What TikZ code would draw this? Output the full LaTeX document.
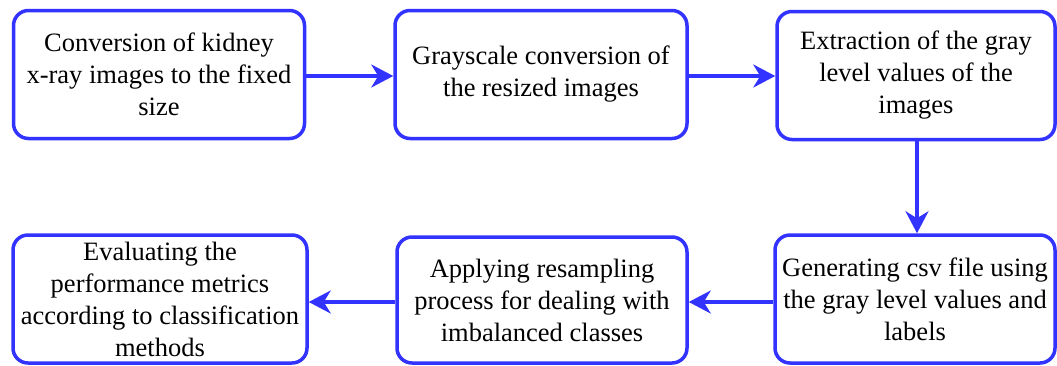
\documentclass[tikz,border=0pt]{standalone}
\usepackage{fontspec}
\setmainfont{Liberation Serif}
\usetikzlibrary{arrows.meta}
\definecolor{bblue}{HTML}{3333FF}
\tikzset{
  stepbox/.style={draw=bblue, line width=3.5pt, rounded corners=15pt, fill=white,
    align=center, inner sep=0pt, font=\fontsize{26.5}{32}\selectfont},
  flow/.style={draw=bblue, line width=3.5pt, -{Stealth[length=22pt,width=23pt,inset=7pt]}}
}
\begin{document}
\begin{tikzpicture}[x=1pt,y=-1pt]
\useasboundingbox (0,0) rectangle (1057,365);
\node[stepbox, minimum width=291pt, minimum height=128pt] (b1) at (159,74.5) {Conversion of kidney\\x-ray images to the fixed\\size};
\node[stepbox, minimum width=292pt, minimum height=128pt] (b2) at (541,74.5) {Grayscale conversion of\\the resized images};
\node[stepbox, minimum width=278pt, minimum height=128pt] (b3) at (916,75.5) {Extraction of the gray\\level values of the\\images};
\node[stepbox, minimum width=280pt, minimum height=128pt] (b4) at (915,299) {Generating csv file using\\the gray level values and\\labels};
\node[stepbox, minimum width=290pt, minimum height=126pt] (b5) at (542,300) {Applying resampling\\process for dealing with\\imbalanced classes};
\node[stepbox, minimum width=294pt, minimum height=128pt] (b6) at (160,299) {Evaluating the\\performance metrics\\according to classification\\methods};
\draw[flow] (b1.east |- 0,76) -- (b2.west |- 0,76);
\draw[flow] (b2.east |- 0,76) -- (b3.west |- 0,76);
\draw[flow] (b3.south -| 917,0) -- (b4.north -| 917,0);
\draw[flow] (b4.west |- 0,302) -- (b5.east |- 0,302);
\draw[flow] (b5.west |- 0,302) -- (b6.east |- 0,302);
\end{tikzpicture}
\end{document}
